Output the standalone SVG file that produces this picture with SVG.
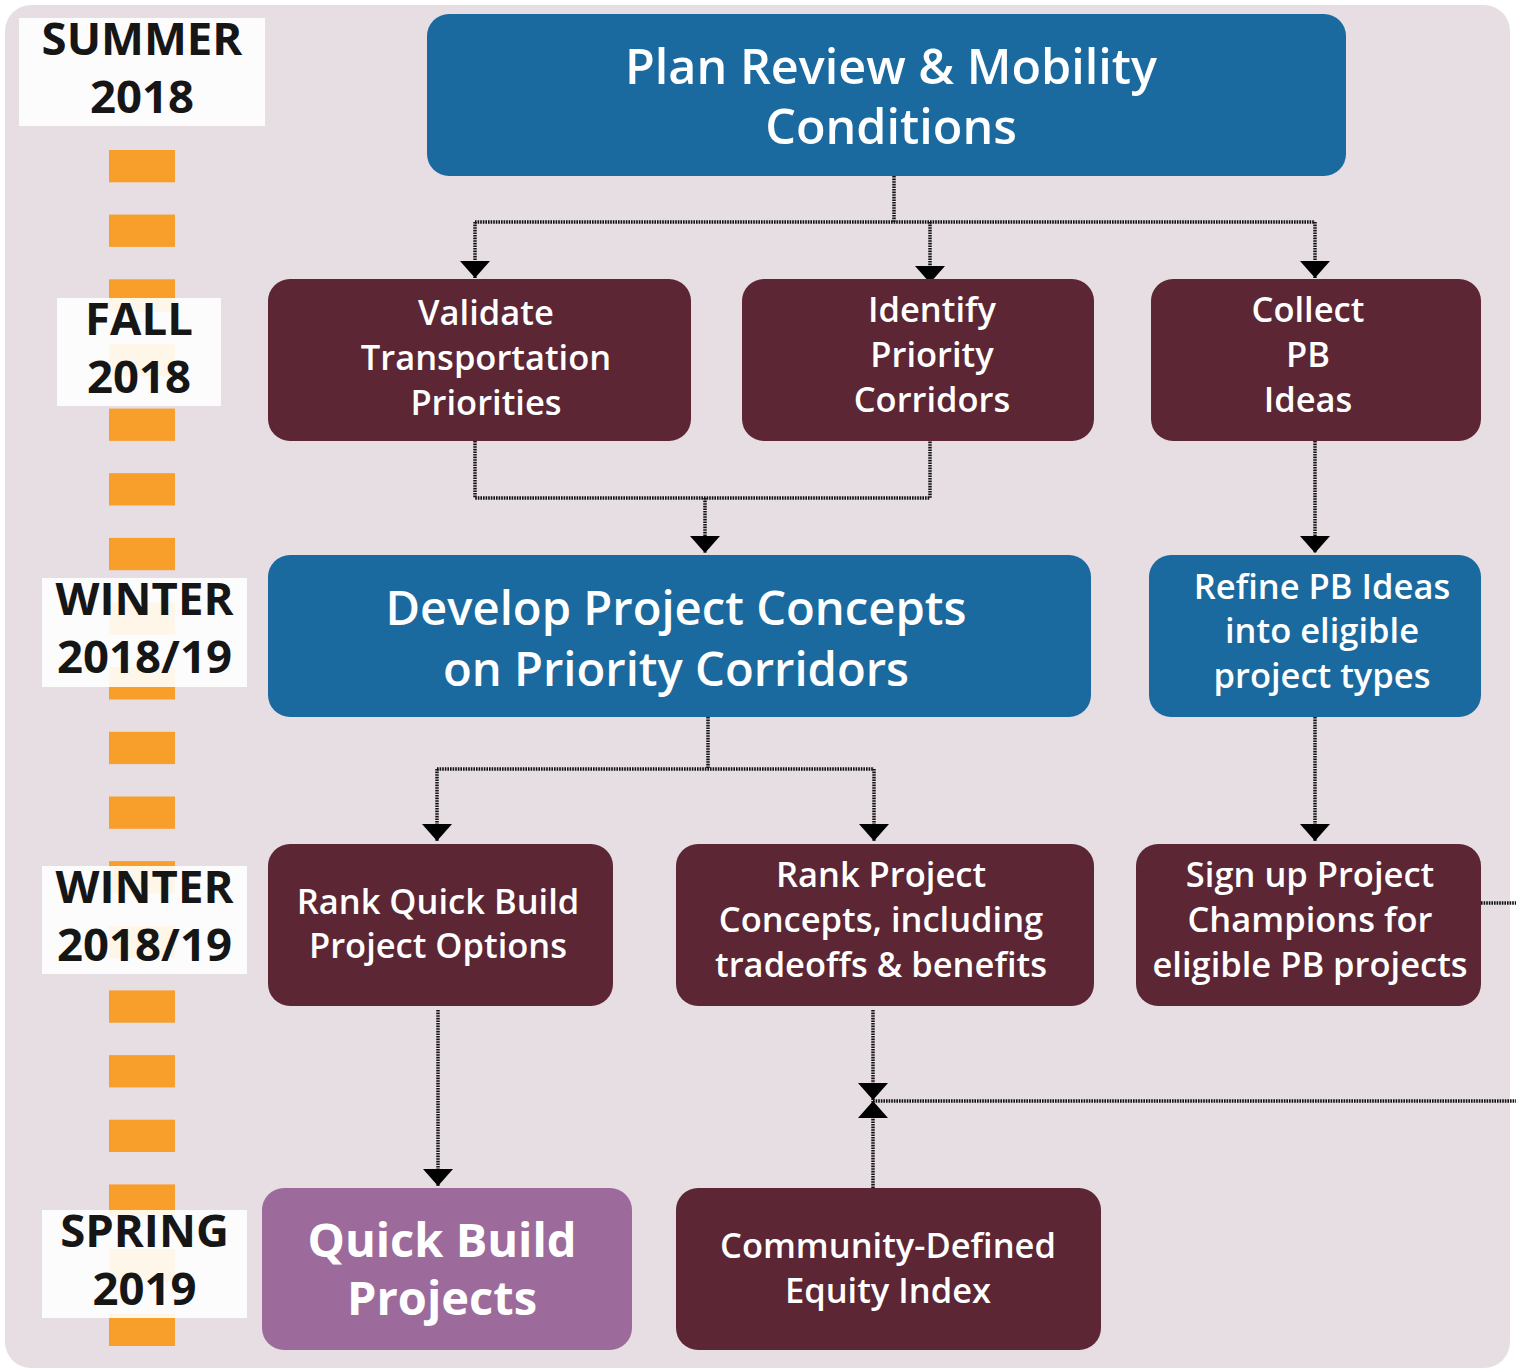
<svg xmlns="http://www.w3.org/2000/svg" width="1516" height="1369" viewBox="0 0 1516 1369">
<defs>
<style>
.lbl{font-family:"Open Sans","Noto Sans","DejaVu Sans",sans-serif;font-weight:700;font-size:45.5px;fill:#161616;text-anchor:middle}
.lblbox{fill:#ffffff;fill-opacity:0.9}
.nt{font-family:"Open Sans","Noto Sans","DejaVu Sans",sans-serif;font-weight:600;font-size:34.5px;fill:#ffffff;text-anchor:middle}
.big{font-size:48.5px}
.big2{font-size:47.2px}
.qb{font-weight:700;font-size:47px}
.blue{fill:#1a6aa0}
.maroon{fill:#5c2634}
.purple{fill:#9c6b9b}
.dash{fill:#f79f2a}
.con{fill:none;stroke:#111111;stroke-width:3.5;stroke-dasharray:1.6 1}
</style>
<marker id="arr" viewBox="0 0 17 30" refX="17" refY="15" markerWidth="17" markerHeight="30" markerUnits="userSpaceOnUse" orient="auto">
<path d="M0,0 L17,15 L0,30 z" fill="#000"/>
</marker>
</defs>
<rect x="0" y="0" width="1516" height="1369" fill="#ffffff"/>
<rect x="5" y="5" width="1505" height="1363" rx="26" fill="#e7dee3"/>

<g id="timeline">
<rect class="dash" x="109" y="150" width="66" height="32.3"/>
<rect class="dash" x="109" y="214.6" width="66" height="32.3"/>
<rect class="dash" x="109" y="279.3" width="66" height="32.3"/>
<rect class="dash" x="109" y="343.9" width="66" height="32.3"/>
<rect class="dash" x="109" y="408.6" width="66" height="32.3"/>
<rect class="dash" x="109" y="473.2" width="66" height="32.3"/>
<rect class="dash" x="109" y="537.9" width="66" height="32.3"/>
<rect class="dash" x="109" y="602.5" width="66" height="32.3"/>
<rect class="dash" x="109" y="667.2" width="66" height="32.3"/>
<rect class="dash" x="109" y="731.8" width="66" height="32.3"/>
<rect class="dash" x="109" y="796.5" width="66" height="32.3"/>
<rect class="dash" x="109" y="861.1" width="66" height="32.3"/>
<rect class="dash" x="109" y="925.8" width="66" height="32.3"/>
<rect class="dash" x="109" y="990.4" width="66" height="32.3"/>
<rect class="dash" x="109" y="1055.1" width="66" height="32.3"/>
<rect class="dash" x="109" y="1119.7" width="66" height="32.3"/>
<rect class="dash" x="109" y="1184.4" width="66" height="32.3"/>
<rect class="dash" x="109" y="1249" width="66" height="32.3"/>
<rect class="dash" x="109" y="1313.7" width="66" height="32.3"/>
</g>

<g id="label-summer-2018">
<rect class="lblbox" x="19" y="18" width="246" height="108"/>
<text class="lbl" x="142" y="55">SUMMER</text>
<text class="lbl" x="142" y="113">2018</text>
</g>
<g id="label-fall-2018">
<rect class="lblbox" x="57" y="298" width="164" height="108"/>
<text class="lbl" x="139" y="335">FALL</text>
<text class="lbl" x="139" y="393">2018</text>
</g>
<g id="label-winter-1">
<rect class="lblbox" x="42" y="578" width="205" height="109"/>
<text class="lbl" x="144.500" y="615">WINTER</text>
<text class="lbl" x="144.500" y="673">2018/19</text>
</g>
<g id="label-winter-2">
<rect class="lblbox" x="42" y="866" width="205" height="108"/>
<text class="lbl" x="144.500" y="903">WINTER</text>
<text class="lbl" x="144.500" y="961">2018/19</text>
</g>
<g id="label-spring-2019">
<rect class="lblbox" x="42" y="1210" width="205" height="108"/>
<text class="lbl" x="144.500" y="1247">SPRING</text>
<text class="lbl" x="144.500" y="1305">2019</text>
</g>

<g id="connectors">
<path class="con" d="M894,176 V222 M475,222 H1315"/>
<path class="con" d="M475,222 V278" marker-end="url(#arr)"/>
<path class="con" d="M930,222 V283" marker-end="url(#arr)"/>
<path class="con" d="M1315,222 V278" marker-end="url(#arr)"/>
<path class="con" d="M475,441 V498 H930 V441"/>
<path class="con" d="M705,498 V553" marker-end="url(#arr)"/>
<path class="con" d="M1315,441 V553" marker-end="url(#arr)"/>
<path class="con" d="M708,717 V769 M437,769 H874"/>
<path class="con" d="M437,769 V841" marker-end="url(#arr)"/>
<path class="con" d="M874,769 V841" marker-end="url(#arr)"/>
<path class="con" d="M1315,717 V841" marker-end="url(#arr)"/>
<path class="con" d="M438,1010 V1186" marker-end="url(#arr)"/>
<path class="con" d="M873,1010 V1100" marker-end="url(#arr)"/>
<path class="con" d="M873,1188 V1101" marker-end="url(#arr)"/>
<path class="con" d="M873,1101 H1516"/>
<path class="con" d="M1481,903 H1516"/>
</g>

<g id="node-plan-review">
<rect class="blue" x="427" y="14" width="919" height="162" rx="22"/>
<text class="nt big" x="891" y="84">Plan Review &amp; Mobility</text>
<text class="nt big" x="891" y="144">Conditions</text>
</g>
<g id="node-validate">
<rect class="maroon" x="268" y="279" width="423" height="162" rx="22"/>
<text class="nt" x="486" y="325">Validate</text>
<text class="nt" x="486" y="370">Transportation</text>
<text class="nt" x="486" y="415">Priorities</text>
</g>
<g id="node-identify">
<rect class="maroon" x="742" y="279" width="352" height="162" rx="22"/>
<text class="nt" x="932" y="322">Identify</text>
<text class="nt" x="932" y="367">Priority</text>
<text class="nt" x="932" y="412">Corridors</text>
</g>
<g id="node-collect">
<rect class="maroon" x="1151" y="279" width="330" height="162" rx="22"/>
<text class="nt" x="1308" y="322">Collect</text>
<text class="nt" x="1308" y="367">PB</text>
<text class="nt" x="1308" y="412">Ideas</text>
</g>
<g id="node-develop">
<rect class="blue" x="268" y="555" width="823" height="162" rx="22"/>
<text class="nt big2" x="676" y="625">Develop Project Concepts</text>
<text class="nt big2" x="676" y="686">on Priority Corridors</text>
</g>
<g id="node-refine">
<rect class="blue" x="1149" y="555" width="332" height="162" rx="22"/>
<text class="nt" x="1322" y="599">Refine PB Ideas</text>
<text class="nt" x="1322" y="643">into eligible</text>
<text class="nt" x="1322" y="688">project types</text>
</g>
<g id="node-rank-quick-build">
<rect class="maroon" x="268" y="844" width="345" height="162" rx="22"/>
<text class="nt" x="438" y="914">Rank Quick Build</text>
<text class="nt" x="438" y="958">Project Options</text>
</g>
<g id="node-rank-concepts">
<rect class="maroon" x="676" y="844" width="418" height="162" rx="22"/>
<text class="nt" x="881" y="887">Rank Project</text>
<text class="nt" x="881" y="932">Concepts, including</text>
<text class="nt" x="881" y="977">tradeoffs &amp; benefits</text>
</g>
<g id="node-sign-up">
<rect class="maroon" x="1136" y="844" width="345" height="162" rx="22"/>
<text class="nt" x="1310" y="887">Sign up Project</text>
<text class="nt" x="1310" y="932">Champions for</text>
<text class="nt" x="1310" y="977">eligible PB projects</text>
</g>
<g id="node-quick-build-projects">
<rect class="purple" x="262" y="1188" width="370" height="162" rx="22"/>
<text class="nt qb" x="442" y="1257">Quick Build</text>
<text class="nt qb" x="442" y="1315">Projects</text>
</g>
<g id="node-equity-index">
<rect class="maroon" x="676" y="1188" width="425" height="162" rx="22"/>
<text class="nt" x="888" y="1258">Community-Defined</text>
<text class="nt" x="888" y="1303">Equity Index</text>
</g>
</svg>
